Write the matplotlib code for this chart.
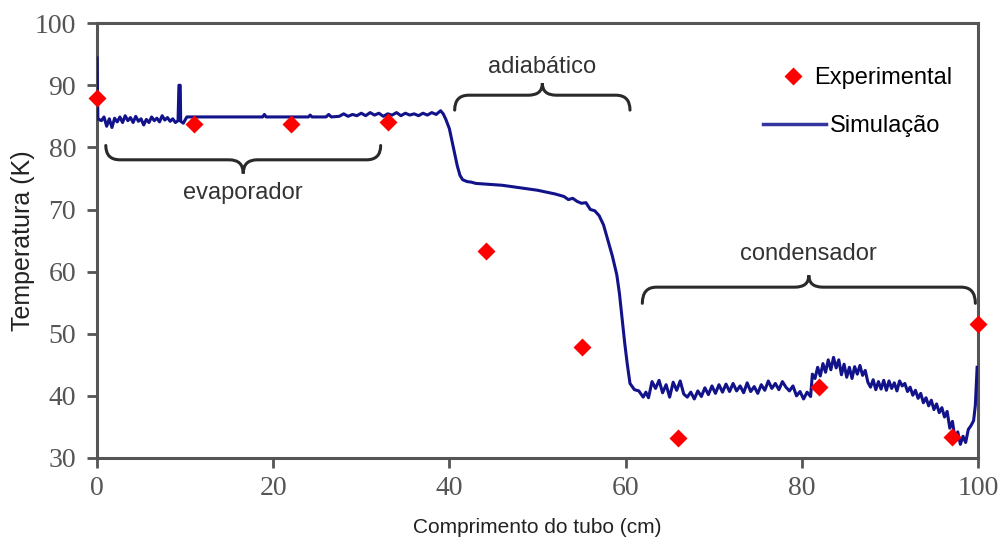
import numpy as np
import matplotlib as mpl
mpl.use('Agg')
import matplotlib.pyplot as plt
from matplotlib.path import Path
from matplotlib.patches import PathPatch
from matplotlib.lines import Line2D

# experimental points
exp_x = [0, 11, 22, 33, 44.2, 55, 66, 82, 97, 100]
exp_y = [87.9, 83.7, 83.7, 84.1, 63.4, 47.8, 33.2, 41.4, 33.3, 51.5]

# simulation curve
sim_xy = [
    (0.0, 94.4), (0.1, 84.6), (0.5, 84.3), (0.8, 84.9), (1.1, 83.4), (1.4, 84.6),
    (1.7, 83.2), (2.0, 84.7), (2.3, 84.1), (2.6, 84.9), (2.9, 84.0), (3.2, 85.1),
    (3.5, 84.3), (3.8, 84.8), (4.1, 84.0), (4.4, 85.0), (4.7, 84.2), (5.0, 84.6),
    (5.3, 83.6), (5.6, 84.5), (5.9, 84.0), (6.2, 84.9), (6.5, 84.3), (6.8, 84.7),
    (7.1, 84.1), (7.4, 85.1), (7.7, 84.4), (8.0, 84.8), (8.3, 84.2), (8.6, 84.6),
    (8.9, 84.0), (9.2, 84.3), (9.3, 90.0), (9.45, 90.0), (9.5, 84.2), (9.8, 83.9),
    (10.2, 84.9), (12.0, 84.9), (18.8, 84.9), (19.0, 85.3), (19.2, 84.9),
    (24.0, 84.9), (24.2, 85.2), (24.4, 84.9), (26.0, 84.9), (26.3, 85.3),
    (26.6, 84.9), (27.5, 85.0), (28.0, 85.4), (28.5, 85.0), (29.0, 85.3),
    (29.5, 85.1), (30.0, 85.5), (30.5, 85.1), (31.0, 85.6), (31.5, 85.2),
    (32.0, 85.5), (32.5, 85.0), (33.0, 85.4), (33.5, 85.2), (34.0, 85.6),
    (34.5, 85.1), (35.0, 85.5), (35.5, 85.2), (36.0, 85.4), (36.5, 85.1),
    (37.0, 85.5), (37.5, 85.2), (38.0, 85.6), (38.5, 85.3), (39.0, 85.9),
    (39.3, 85.4), (39.6, 84.5), (40.0, 83.0), (40.3, 81.0), (40.6, 79.0),
    (40.9, 77.0), (41.2, 75.5), (41.5, 74.8), (42.0, 74.5), (42.5, 74.4),
    (43.0, 74.2), (44.0, 74.1), (45.0, 74.0), (46.0, 73.9), (47.0, 73.7),
    (48.0, 73.5), (49.0, 73.3), (50.0, 73.1), (51.0, 72.8), (52.0, 72.5),
    (53.0, 72.1), (53.5, 71.6), (54.0, 71.8), (54.5, 71.3), (55.0, 71.0),
    (55.5, 71.1), (56.0, 70.0), (56.5, 69.8), (57.0, 69.0), (57.5, 67.5),
    (58.0, 65.0), (58.5, 62.5), (59.0, 59.5), (59.3, 56.5), (59.6, 52.5),
    (59.9, 48.5), (60.2, 45.0), (60.5, 42.0), (61.0, 41.0), (61.5, 40.8),
    (62.0, 39.8), (62.3, 40.6), (62.6, 39.7), (63.0, 42.3), (63.4, 41.2),
    (63.8, 42.5), (64.2, 40.5), (64.6, 41.8), (65.0, 39.8), (65.4, 42.2),
    (65.8, 40.9), (66.2, 42.4), (66.6, 40.3), (67.0, 39.8), (67.4, 40.6),
    (67.8, 39.5), (68.2, 40.8), (68.6, 39.9), (69.0, 41.3), (69.4, 40.2),
    (69.8, 41.6), (70.2, 40.4), (70.6, 41.8), (71.0, 40.6), (71.4, 41.9),
    (71.8, 40.7), (72.2, 42.0), (72.6, 40.8), (73.0, 41.6), (73.4, 40.5),
    (73.8, 42.1), (74.2, 40.7), (74.6, 41.5), (75.0, 40.4), (75.4, 41.8),
    (75.8, 40.9), (76.2, 42.4), (76.6, 41.2), (77.0, 42.0), (77.4, 41.0),
    (77.8, 42.3), (78.2, 41.4), (78.6, 40.8), (79.0, 41.6), (79.4, 40.0),
    (79.8, 40.7), (80.2, 39.5), (80.6, 40.6), (81.0, 39.9), (81.2, 43.5),
    (81.5, 42.8), (81.8, 44.6), (82.1, 43.2), (82.4, 45.2), (82.7, 43.8),
    (83.0, 45.8), (83.3, 44.2), (83.6, 46.2), (83.9, 44.5), (84.2, 45.8),
    (84.5, 43.4), (84.8, 45.1), (85.1, 43.0), (85.4, 44.6), (85.7, 42.8),
    (86.0, 44.7), (86.3, 43.5), (86.6, 44.9), (86.9, 43.3), (87.2, 44.1),
    (87.5, 42.2), (87.8, 41.4), (88.1, 42.6), (88.4, 41.0), (88.7, 42.3),
    (89.0, 41.1), (89.3, 42.5), (89.6, 40.9), (89.9, 42.4), (90.2, 41.2),
    (90.5, 42.1), (90.8, 40.8), (91.1, 42.4), (91.4, 41.6), (91.7, 42.0),
    (92.0, 40.7), (92.3, 41.4), (92.6, 40.1), (92.9, 40.9), (93.2, 39.6),
    (93.5, 40.4), (93.8, 38.9), (94.1, 39.7), (94.4, 38.4), (94.7, 39.3),
    (95.0, 37.8), (95.3, 38.7), (95.6, 37.3), (95.9, 38.1), (96.2, 36.6),
    (96.5, 37.5), (96.8, 34.8), (97.1, 35.9), (97.4, 33.0), (97.7, 34.2),
    (98.0, 32.2), (98.3, 33.5), (98.6, 32.5), (98.9, 34.6), (99.2, 35.2),
    (99.5, 36.0), (99.7, 38.5), (99.9, 44.6),
]
sim_x = [p[0] for p in sim_xy]
sim_y = [p[1] for p in sim_xy]

# braces: (x start, x end, y of ends, y of middle, y of tip, label, label y)
braces = [
    (1.0, 32.2, 80.3, 78.0, 75.8, 'evaporador', 72.6),
    (40.6, 60.5, 86.0, 88.4, 90.3, 'adiabático', 92.9),
    (61.9, 99.7, 54.9, 57.5, 59.4, 'condensador', 62.8),
]


def draw_brace(ax, x0, x1, y_end, y_mid, y_tip, r=1.6):
    xc = (x0 + x1) / 2
    verts = [(x0, y_end), (x0, y_mid), (x0 + r, y_mid),
             (xc - r, y_mid), (xc, y_mid), (xc, y_tip),
             (xc, y_mid), (xc + r, y_mid),
             (x1 - r, y_mid), (x1, y_mid), (x1, y_end)]
    codes = [Path.MOVETO, Path.CURVE3, Path.CURVE3,
             Path.LINETO, Path.CURVE3, Path.CURVE3,
             Path.CURVE3, Path.CURVE3,
             Path.LINETO, Path.CURVE3, Path.CURVE3]
    ax.add_patch(PathPatch(Path(verts, codes), fill=False, lw=2.2,
                           ec='#2a2a2a', capstyle='round', zorder=2))


fig = plt.figure(figsize=(10.04, 5.38), dpi=100)
ax = fig.add_axes([0.0966, 0.1487, 0.8775, 0.8083])

ax.plot(sim_x, sim_y, color='#12128a', lw=2.2, zorder=3)
ax.plot(exp_x, exp_y, 'D', color='#ff0000', ms=9, mec='none', zorder=4,
        clip_on=False)

for x0, x1, ye, ym, yt, lab, ly in braces:
    draw_brace(ax, x0, x1, ye, ym, yt)
    ax.text((x0 + x1) / 2, ly, lab, ha='center', va='center', fontsize=17,
            family='Liberation Sans', color='#333333')

ax.set_xlim(0, 100)
ax.set_ylim(30, 100)
ax.set_xticks([0, 20, 40, 60, 80, 100])
ax.set_yticks([30, 40, 50, 60, 70, 80, 90, 100])
for sp in ax.spines.values():
    sp.set_color('#555555')
    sp.set_linewidth(2.2)
ax.tick_params(direction='out', length=7, width=2, color='#555555',
               labelcolor='#555555', labelsize=20)
ax.tick_params(axis='x', pad=6)
ax.tick_params(axis='y', pad=8)
for lab in ax.get_xticklabels() + ax.get_yticklabels():
    lab.set_family('Liberation Serif')

ax.set_xlabel('Comprimento do tubo (cm)', fontsize=15, family='Liberation Sans',
              color='#222222', labelpad=12)
ax.set_ylabel('Temperatura (K)', fontsize=18, family='Liberation Sans',
              color='#222222', labelpad=0)

h1 = Line2D([], [], marker='D', color='#ff0000', ls='none', ms=9, mec='none')
h2 = Line2D([], [], color='#3535a0', lw=2.5)
leg_font = {'family': 'Liberation Sans', 'size': 17}
leg1 = ax.legend([h1], ['Experimental'], loc='center left',
                 bbox_to_anchor=(0.774, 0.8736), frameon=False,
                 borderpad=0, borderaxespad=0,
                 handlelength=1.2, handletextpad=0.3, prop=leg_font)
ax.add_artist(leg1)
ax.legend([h2], ['Simulação'], loc='center left',
          bbox_to_anchor=(0.756, 0.763), frameon=False,
          borderpad=0, borderaxespad=0,
          handlelength=2.67, handletextpad=0.17, prop=leg_font)

fig.savefig('out.png', dpi=100, facecolor='white')
